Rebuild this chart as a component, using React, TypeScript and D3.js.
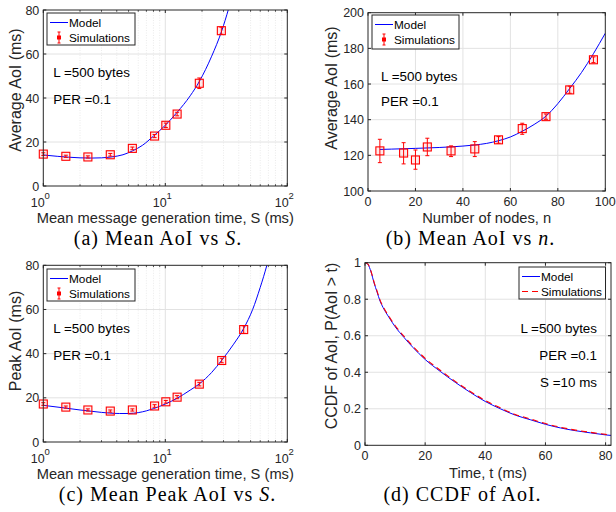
import React from 'react';
import * as d3 from 'd3';

// ---------- Data ----------
// (a) Mean AoI vs S
const aSimS = [1, 1.53, 2.32, 3.54, 5.37, 8.17, 10.1, 12.5, 19, 28.8];
const aSimAoI = [14.5, 13.5, 13.2, 14.2, 17.1, 22.7, 27.6, 32.7, 46.7, 70.6];
const aSimErr = [0.6, 0.5, 0.5, 0.6, 0.6, 0.7, 1.0, 0.8, 2.4, 1.6];
const aModelS = [1, 1.3, 1.6, 2, 2.5, 3, 3.6, 4.5, 5.4, 6.5, 8, 10, 12.5, 16, 19, 24, 29, 33, 36];
const aModelAoI = [14.1, 13.5, 13.1, 12.8, 12.7, 12.8, 13.2, 14.2, 16.0, 18.5, 22.7, 27.6, 33.5, 41, 47.5, 59, 70.5, 80.5, 88];

// (b) Mean AoI vs n
const bSimN = [5, 15, 20, 25, 35, 45, 55, 65, 75, 85, 95];
const bSimAoI = [122.5, 121.3, 117.4, 124.7, 122.5, 123.6, 128.7, 135, 141.7, 156.7, 173.6];
const bSimLo = [115.9, 115.2, 112.2, 119.8, 119.3, 119.3, 126.8, 131.8, 140.2, 154.8, 172.0];
const bSimHi = [129.0, 127.1, 123.0, 129.6, 125.3, 127.7, 130.5, 138.0, 143.2, 158.8, 175.2];
const bModelN = [5, 10, 20, 30, 40, 45, 50, 55, 60, 65, 70, 75, 80, 85, 90, 95, 100];
const bModelAoI = [123.3, 123.5, 123.9, 124.4, 125.2, 125.8, 126.7, 128.2, 130.3, 133.5, 137.3, 142, 149, 157.5, 166.5, 177, 188.5];

// (c) Mean Peak AoI vs S
const cSimS = [1, 1.53, 2.32, 3.54, 5.37, 8.17, 10.1, 12.5, 19, 29, 43.9];
const cSimAoI = [17.2, 15.8, 14.5, 14.0, 14.5, 16.3, 18.2, 20.3, 26.2, 36.9, 50.9];
const cSimErr = [0.6, 0.5, 0.5, 0.5, 0.5, 0.6, 0.6, 0.7, 0.8, 1.0, 1.7];
const cModelS = [1, 1.5, 2, 2.5, 3, 3.5, 4.2, 5, 6, 7, 8, 10, 12.5, 16, 19, 24, 29, 36, 44, 52, 60, 68, 75];
const cModelAoI = [16.6, 15.4, 14.5, 13.9, 13.4, 13.1, 12.9, 12.9, 13.3, 14.1, 15.1, 17.2, 19.8, 23.5, 26.3, 31.5, 37, 44, 51.5, 60, 70, 80, 89];

// (d) CCDF of AoI
const dT = [0, 1, 2, 3, 4, 5, 6, 8, 10, 13, 16, 20, 25, 30, 35, 40, 45, 50, 55, 60, 65, 70, 75, 80, 81.8];
const dModel = [1, 0.99, 0.95, 0.89, 0.84, 0.79, 0.755, 0.7, 0.65, 0.59, 0.535, 0.47, 0.405, 0.345, 0.29, 0.24, 0.2, 0.165, 0.14, 0.115, 0.095, 0.08, 0.068, 0.057, 0.054];
const dSim = [1, 0.992, 0.953, 0.894, 0.845, 0.795, 0.76, 0.705, 0.656, 0.596, 0.541, 0.476, 0.411, 0.35, 0.295, 0.245, 0.205, 0.169, 0.144, 0.119, 0.099, 0.083, 0.071, 0.06, 0.057];

const linTicksA = [0, 20, 40, 60, 80];
const linTicksB = [100, 120, 140, 160, 180, 200];
const xTicksB = [0, 20, 40, 60, 80, 100];
const xTicksD = [0, 20, 40, 60, 80];
const yTicksD = [0, 0.2, 0.4, 0.6, 0.8, 1];
const logTicks = [1, 10, 100];
const logExps = ['0', '1', '2'];

// ---------- Style ----------
const SANS = "'Liberation Sans', Arial, Helvetica, sans-serif";
const SERIF = "'Liberation Serif', 'Times New Roman', serif";
const AXIS = '#262626';
const GRID = '#e2e2e2';
const MINOR = '#e6e6e6';
const BLUE = '#0000ff';
const RED = '#ff0000';

type Sim = { x: number[]; y: number[]; lo: number[]; hi: number[] };

type PanelProps = {
  id: string;
  l: number; r: number; t: number; b: number;
  log: boolean;
  xDomain: [number, number];
  yDomain: [number, number];
  xTicks: number[];
  yTicks: number[];
  xLabel: string;
  xLabelY: number;
  yLabel: string;
  yLabelX: number;
  yLabelCY: number;
  caption: React.ReactNode;
  captionX: number;
  captionY: number;
  modelX: number[];
  modelY: number[];
  sim?: Sim;
  simLineX?: number[];
  simLineY?: number[];
  legend: { x: number; y: number; w: number; h: number; dashed: boolean };
  notes: { text: string; x: number; y: number; anchor: string }[];
};

function Panel(p: PanelProps) {
  const x: any = p.log
    ? d3.scaleLog().domain(p.xDomain).range([p.l, p.r])
    : d3.scaleLinear().domain(p.xDomain).range([p.l, p.r]);
  const y = d3.scaleLinear().domain(p.yDomain).range([p.b, p.t]);
  const clip = `clip-${p.id}`;
  const line = d3.line<[number, number]>().x(d => x(d[0])).y(d => y(d[1])).curve(d3.curveMonotoneX);
  const model = line(p.modelX.map((v, i) => [v, p.modelY[i]] as [number, number])) || '';
  const simLine = p.simLineX ? line(p.simLineX.map((v, i) => [v, p.simLineY![i]] as [number, number])) || '' : '';
  const minors: number[] = [];
  if (p.log) {
    for (const dec of [1, 10]) for (let k = 2; k <= 9; k++) minors.push(dec * k);
  }
  const tk = 3;
  const mtk = 1.8;
  const L = p.legend;
  return (
    <g>
      <defs>
        <clipPath id={clip}>
          <rect x={p.l} y={p.t} width={p.r - p.l} height={p.b - p.t} />
        </clipPath>
      </defs>
      <rect x={p.l} y={p.t} width={p.r - p.l} height={p.b - p.t} fill="#fff" />
      {minors.map((m, i) => (
        <line key={'mg' + i} x1={x(m)} x2={x(m)} y1={p.t} y2={p.b} stroke={MINOR} strokeWidth={0.8} strokeDasharray="1,1.5" />
      ))}
      {p.xTicks.filter(v => x(v) > p.l + 1 && x(v) < p.r - 1).map((v, i) => (
        <line key={'xg' + i} x1={x(v)} x2={x(v)} y1={p.t} y2={p.b} stroke={GRID} strokeWidth={1} />
      ))}
      {p.yTicks.slice(1, -1).map((v, i) => (
        <line key={'yg' + i} x1={p.l} x2={p.r} y1={y(v)} y2={y(v)} stroke={GRID} strokeWidth={1} />
      ))}
      <g clipPath={`url(#${clip})`}>
        <path d={model} fill="none" stroke={BLUE} strokeWidth={1} />
        {simLine && <path d={simLine} fill="none" stroke={RED} strokeWidth={1.1} strokeDasharray="6,4" />}
      </g>
      {p.sim && p.sim.x.map((v, i) => {
        const cx = x(v);
        const cy = y(p.sim!.y[i]);
        const y1 = y(p.sim!.lo[i]);
        const y2 = y(p.sim!.hi[i]);
        return (
          <g key={'s' + i} stroke={RED} fill="none" strokeWidth={1}>
            <line x1={cx} x2={cx} y1={y1} y2={y2} />
            <line x1={cx - 2} x2={cx + 2} y1={y1} y2={y1} />
            <line x1={cx - 2} x2={cx + 2} y1={y2} y2={y2} />
            <rect x={cx - 4} y={cy - 4} width={8} height={8} strokeWidth={1.1} fill="rgba(255,0,0,0.08)" />
          </g>
        );
      })}
      <rect x={p.l} y={p.t} width={p.r - p.l} height={p.b - p.t} fill="none" stroke={AXIS} strokeWidth={1} />
      {/* ticks */}
      {p.xTicks.map((v, i) => (
        <g key={'xt' + i} stroke={AXIS} strokeWidth={1}>
          <line x1={x(v)} x2={x(v)} y1={p.b} y2={p.b - tk} />
          <line x1={x(v)} x2={x(v)} y1={p.t} y2={p.t + tk} />
        </g>
      ))}
      {minors.map((m, i) => (
        <g key={'mt' + i} stroke={AXIS} strokeWidth={0.8}>
          <line x1={x(m)} x2={x(m)} y1={p.b} y2={p.b - mtk} />
          <line x1={x(m)} x2={x(m)} y1={p.t} y2={p.t + mtk} />
        </g>
      ))}
      {p.yTicks.map((v, i) => (
        <g key={'yt' + i} stroke={AXIS} strokeWidth={1}>
          <line x1={p.l} x2={p.l + tk} y1={y(v)} y2={y(v)} />
          <line x1={p.r} x2={p.r - tk} y1={y(v)} y2={y(v)} />
        </g>
      ))}
      {/* tick labels */}
      <g fontFamily={SANS} fontSize={12.5} fill={AXIS}>
        {p.yTicks.map((v, i) => (
          <text key={'yl' + i} x={p.l - 4} y={y(v)} dy="0.36em" textAnchor="end">{String(v)}</text>
        ))}
        {p.log
          ? p.xTicks.map((v, i) => (
              <text key={'xl' + i} x={x(v) - 3} y={p.b + 21} textAnchor="middle">
                10<tspan dy={-8} fontSize={9.5}>{logExps[i]}</tspan>
              </text>
            ))
          : p.xTicks.map((v, i) => (
              <text key={'xl' + i} x={x(v)} y={p.b + 15} textAnchor="middle">{String(v)}</text>
            ))}
      </g>
      <text x={(p.l + p.r) / 2} y={p.xLabelY} textAnchor="middle" fontFamily={SANS} fontSize={14.7} fill={AXIS}>{p.xLabel}</text>
      <text transform={`translate(${p.yLabelX},${p.yLabelCY}) rotate(-90)`} textAnchor="middle" fontFamily={SANS} fontSize={16} fill={AXIS}>{p.yLabel}</text>
      {p.notes.map((n, i) => (
        <text key={'n' + i} x={n.x} y={n.y} dy="0.36em" textAnchor={n.anchor as any} fontFamily={SANS} fontSize={13.4} fill="#000">{n.text}</text>
      ))}
      {/* legend */}
      <g>
        <rect x={L.x} y={L.y} width={L.w} height={L.h} fill="#fff" stroke={AXIS} strokeWidth={1} />
        <line x1={L.x + 3} x2={L.x + 21} y1={L.y + 9.5} y2={L.y + 9.5} stroke={BLUE} strokeWidth={1} />
        {L.dashed ? (
          <line x1={L.x + 3} x2={L.x + 21} y1={L.y + 24.5} y2={L.y + 24.5} stroke={RED} strokeWidth={1} strokeDasharray="6,4" />
        ) : (
          <g stroke={RED} strokeWidth={1}>
            <line x1={L.x + 12} x2={L.x + 12} y1={L.y + 19} y2={L.y + 30} />
            <line x1={L.x + 10.5} x2={L.x + 13.5} y1={L.y + 19} y2={L.y + 19} />
            <line x1={L.x + 10.5} x2={L.x + 13.5} y1={L.y + 30} y2={L.y + 30} />
            <rect x={L.x + 10.5} y={L.y + 23} width={3} height={3} fill={RED} />
          </g>
        )}
        <text x={L.x + 22} y={L.y + 9.5} dy="0.36em" fontFamily={SANS} fontSize={11.8} fill="#000">Model</text>
        <text x={L.x + 22} y={L.y + 24.5} dy="0.36em" fontFamily={SANS} fontSize={11.8} fill="#000">Simulations</text>
      </g>
      <text x={p.captionX} y={p.captionY} textAnchor="middle" fontFamily={SERIF} fontSize={20} letterSpacing={1} fill="#000">{p.caption}</text>
    </g>
  );
}

function mkSim(xs: number[], ys: number[], err: number[]): Sim {
  return { x: xs, y: ys, lo: ys.map((v, i) => v - err[i]), hi: ys.map((v, i) => v + err[i]) };
}

export default function App() {
  return (
    <svg width={616} height={512} style={{ position: 'absolute', left: 0, top: 0, background: '#fff' }}>
      <Panel
        id="a" l={43.3} r={287.3} t={10} b={186} log
        xDomain={[1, 100]} yDomain={[0, 80]} xTicks={logTicks} yTicks={linTicksA}
        xLabel="Mean message generation time, S (ms)" xLabelY={222.5}
        yLabel="Average AoI (ms)" yLabelX={20.5} yLabelCY={90}
        caption={<>(a) Mean AoI vs <tspan fontStyle="italic">S</tspan>.</>}
        captionX={158} captionY={245}
        modelX={aModelS} modelY={aModelAoI}
        sim={mkSim(aSimS, aSimAoI, aSimErr)}
        legend={{ x: 47, y: 13, w: 88, h: 32, dashed: false }}
        notes={[{ text: 'L =500 bytes', x: 53.3, y: 72, anchor: 'start' }, { text: 'PER =0.1', x: 53.3, y: 99, anchor: 'start' }]}
      />
      <Panel
        id="b" l={368} r={605.3} t={12.7} b={191} log={false}
        xDomain={[0, 100]} yDomain={[100, 200]} xTicks={xTicksB} yTicks={linTicksB}
        xLabel="Number of nodes, n" xLabelY={222.5}
        yLabel="Average AoI (ms)" yLabelX={337} yLabelCY={88}
        caption={<>(b) Mean AoI vs <tspan fontStyle="italic">n</tspan>.</>}
        captionX={470.5} captionY={245}
        modelX={bModelN} modelY={bModelAoI}
        sim={{ x: bSimN, y: bSimAoI, lo: bSimLo, hi: bSimHi }}
        legend={{ x: 372, y: 15, w: 87, h: 34, dashed: false }}
        notes={[{ text: 'L =500 bytes', x: 381, y: 76, anchor: 'start' }, { text: 'PER =0.1', x: 381, y: 101, anchor: 'start' }]}
      />
      <Panel
        id="c" l={43.3} r={287.3} t={265.3} b={442} log
        xDomain={[1, 100]} yDomain={[0, 80]} xTicks={logTicks} yTicks={linTicksA}
        xLabel="Mean message generation time, S (ms)" xLabelY={478.5}
        yLabel="Peak AoI (ms)" yLabelX={20.5} yLabelCY={341}
        caption={<>(c) Mean Peak AoI vs <tspan fontStyle="italic">S</tspan>.</>}
        captionX={167.5} captionY={501}
        modelX={cModelS} modelY={cModelAoI}
        sim={mkSim(cSimS, cSimAoI, cSimErr)}
        legend={{ x: 47, y: 269, w: 88, h: 32, dashed: false }}
        notes={[{ text: 'L =500 bytes', x: 53.3, y: 328, anchor: 'start' }, { text: 'PER =0.1', x: 53.3, y: 355, anchor: 'start' }]}
      />
      <Panel
        id="d" l={365} r={611} t={262.7} b={445.3} log={false}
        xDomain={[0, 81.8]} yDomain={[0, 1]} xTicks={xTicksD} yTicks={yTicksD}
        xLabel="Time, t (ms)" xLabelY={478}
        yLabel="CCDF of AoI, P(AoI > t)" yLabelX={337} yLabelCY={346}
        caption={<>(d) CCDF of AoI.</>}
        captionX={462.5} captionY={501}
        modelX={dT} modelY={dModel}
        simLineX={dT} simLineY={dSim}
        legend={{ x: 519, y: 267, w: 86.5, h: 32, dashed: true }}
        notes={[
          { text: 'L =500 bytes', x: 597, y: 328, anchor: 'end' },
          { text: 'PER =0.1', x: 597, y: 355, anchor: 'end' },
          { text: 'S =10 ms', x: 597, y: 382, anchor: 'end' },
        ]}
      />
    </svg>
  );
}
